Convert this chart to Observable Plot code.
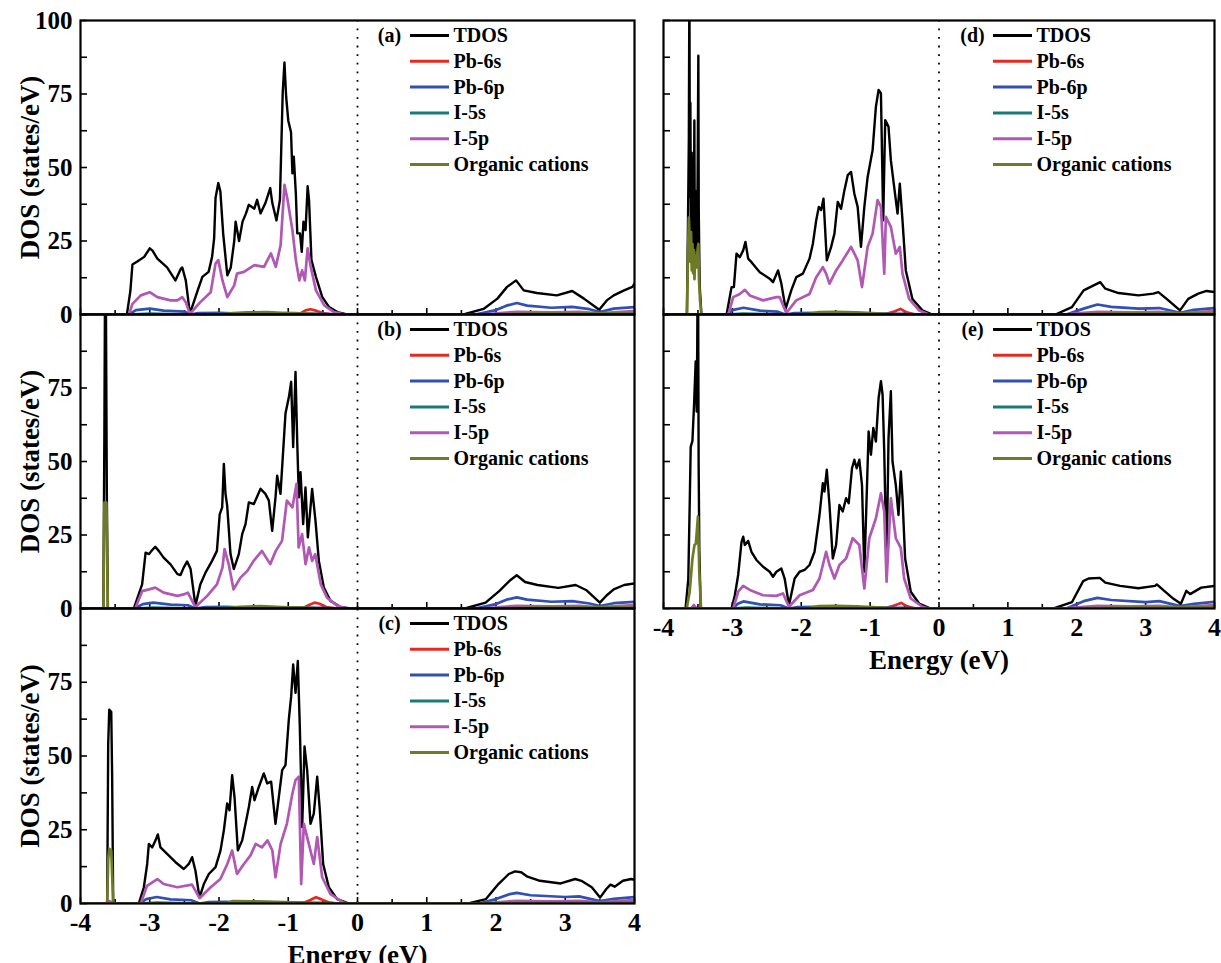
<!DOCTYPE html>
<html><head><meta charset="utf-8">
<script src="https://cdn.jsdelivr.net/npm/d3@7"></script>
<script src="https://cdn.jsdelivr.net/npm/@observablehq/plot@0.6"></script>
<style>
body{margin:0;background:#fff;}
#wrap{position:relative;width:1221px;height:963px;overflow:hidden;background:#fff;}
#wrap svg{position:absolute;left:0;top:0;}
</style></head><body><div id="wrap"></div>
<script>
// ---------- labels ----------
const SERIES = ["TDOS","Pb-6s","Pb-6p","I-5s","I-5p","Organic cations"];
const COLORS = ["#000000","#e8281e","#3050b4","#1a7a78","#b058b4","#6f7a26"];
const PANEL_LABELS = ["(a)","(b)","(c)","(d)","(e)"];
const E_TICKS = [-4,-3,-2,-1,0,1,2,3,4];
const DOS_TICKS = [0,25,50,75,100];

// ---------- panel (a) ----------
const a_tdos = [[-4,0],[-3.33,0],[-3.28,8],[-3.25,17],[-3.18,18],[-3.08,19.6],[-3.0,22.5],[-2.96,21.7],[-2.89,19],[-2.75,16],[-2.63,11.6],[-2.55,15.6],[-2.53,16],[-2.48,11.6],[-2.42,0.3],[-2.31,8],[-2.24,12.8],[-2.15,14.5],[-2.10,19.6],[-2.07,26],[-2.05,39.6],[-2.01,44.7],[-1.98,41.8],[-1.94,27.6],[-1.88,13.3],[-1.83,16],[-1.78,25],[-1.76,31.6],[-1.71,25],[-1.66,31.6],[-1.61,34.4],[-1.57,37.3],[-1.49,36],[-1.45,39],[-1.40,34.4],[-1.33,37.9],[-1.26,43],[-1.23,37.9],[-1.17,32],[-1.12,39],[-1.08,75.5],[-1.055,85.7],[-1.03,74],[-1.0,66],[-0.96,62],[-0.94,48],[-0.92,53.7],[-0.89,41],[-0.87,27.6],[-0.83,27.6],[-0.805,21.3],[-0.78,31.6],[-0.75,28.7],[-0.72,43.6],[-0.70,39],[-0.665,18.5],[-0.60,12.8],[-0.51,6],[-0.41,2.5],[-0.29,0.8],[-0.15,0],[1.53,0],[1.82,1.9],[2.02,5.4],[2.16,9.4],[2.26,11.1],[2.29,11.6],[2.40,8.2],[2.59,7.3],[2.88,6.5],[3.10,8],[3.27,5.4],[3.49,1.6],[3.6,4.8],[3.7,6.5],[3.85,8.2],[3.97,9.4],[4,10.5]];
const a_pb6s = [[-4,0],[-0.85,0],[-0.75,1.4],[-0.68,1.8],[-0.6,1.3],[-0.5,0.5],[-0.35,0],[1.9,0],[2.4,0.4],[3.2,0.3],[4,0.5]];
const a_pb6p = [[-4,0],[-3.30,0],[-3.2,1.5],[-3.0,2.0],[-2.8,1.3],[-2.5,1.0],[-2.42,0],[-2.3,0.5],[-2.0,0.6],[-1.7,0.3],[-1.0,0.3],[-0.5,0.2],[-0.2,0],[1.7,0],[2.0,1.5],[2.15,3.0],[2.3,3.9],[2.45,3.0],[2.8,2.3],[3.1,2.6],[3.35,1.8],[3.5,0.8],[3.7,2.0],[4,2.5]];
const a_i5s = [[-4,0],[-3.3,0],[-3.0,0.3],[-2.42,0],[-1.8,0.3],[-1.5,0.5],[-1.2,0.4],[-0.9,0.2],[-0.5,0],[4,0]];
const a_i5p = [[-4,0],[-3.30,0],[-3.25,3.6],[-3.13,6.5],[-3.0,7.6],[-2.89,5.9],[-2.70,4.8],[-2.60,4.8],[-2.53,5.9],[-2.48,4.2],[-2.42,0.2],[-2.27,4.2],[-2.12,7.6],[-2.05,17.3],[-2.01,18.5],[-1.95,11.6],[-1.88,5.9],[-1.78,9.9],[-1.74,13.9],[-1.64,14.5],[-1.49,16.8],[-1.35,16.2],[-1.25,20.8],[-1.18,16.2],[-1.11,23.6],[-1.055,44.1],[-1.01,39],[-0.94,28.7],[-0.89,18.5],[-0.84,11.6],[-0.80,15],[-0.76,11.6],[-0.72,22.5],[-0.675,16.2],[-0.60,8.2],[-0.48,3.1],[-0.34,0.8],[-0.19,0],[1.8,0],[2.1,0.6],[2.3,0.9],[2.8,0.7],[3.2,0.9],[3.5,0.4],[3.8,0.9],[4,1.2]];
const a_org = [[-4,0],[-1.95,0],[-1.8,0.5],[-1.6,0.7],[-1.3,0.8],[-1.1,0.6],[-0.9,0.5],[-0.6,0.1],[-0.4,0],[1.8,0],[2.5,0.3],[4,0.4]];

// ---------- panel (b) ----------
const b_tdos = [[-4,0],[-3.67,0],[-3.655,60],[-3.645,115],[-3.635,115],[-3.62,40],[-3.605,0],[-3.23,0],[-3.16,4.8],[-3.11,8.2],[-3.06,19],[-3.01,18.5],[-2.975,19.6],[-2.92,21],[-2.87,19.6],[-2.80,17.3],[-2.70,15],[-2.60,11.7],[-2.556,11.4],[-2.51,13.9],[-2.46,16],[-2.41,13.4],[-2.34,0.9],[-2.27,8.2],[-2.195,12.2],[-2.10,16.2],[-2.03,19.6],[-1.99,32],[-1.954,34.4],[-1.93,49.2],[-1.906,39],[-1.882,35],[-1.834,18.5],[-1.786,13.4],[-1.714,18.5],[-1.665,25.3],[-1.617,28.7],[-1.569,36.1],[-1.497,35.5],[-1.40,40.7],[-1.33,39],[-1.28,36.7],[-1.232,26.4],[-1.184,37.8],[-1.16,45.2],[-1.112,39],[-1.04,66.3],[-0.99,72],[-0.958,77.1],[-0.929,54.9],[-0.895,80.5],[-0.871,57.2],[-0.847,37.8],[-0.823,46.4],[-0.785,28.7],[-0.751,41.2],[-0.717,24.2],[-0.655,40.7],[-0.607,29.9],[-0.558,16.2],[-0.486,7.1],[-0.39,2.6],[-0.246,0.5],[-0.1,0],[1.55,0],[1.85,2],[2.05,6],[2.2,9.5],[2.3,11.3],[2.42,9],[2.6,8],[2.9,7],[3.15,8],[3.3,6.3],[3.5,2],[3.6,4.5],[3.7,6.5],[3.85,8],[4,8.5]];
const b_pb6s = [[-4,0],[-0.8,0],[-0.7,1.2],[-0.62,2.0],[-0.55,1.6],[-0.45,0.5],[-0.3,0],[1.9,0],[2.4,0.4],[3.2,0.3],[4,0.5]];
const b_pb6p = [[-4,0],[-3.22,0],[-3.1,1.5],[-2.95,2.0],[-2.7,1.3],[-2.45,1.1],[-2.34,0],[-2.2,0.5],[-1.9,0.6],[-1.6,0.3],[-1.0,0.3],[-0.5,0.2],[-0.2,0],[1.7,0],[2.0,1.5],[2.15,3.0],[2.3,3.8],[2.45,3.0],[2.8,2.3],[3.1,2.5],[3.35,1.7],[3.5,0.8],[3.7,1.8],[4,2.3]];
const b_i5s = [[-4,0],[-3.2,0],[-2.95,0.3],[-2.34,0],[-1.8,0.3],[-1.5,0.5],[-1.2,0.4],[-0.9,0.2],[-0.5,0],[4,0]];
const b_i5p = [[-4,0],[-3.21,0],[-3.11,5.9],[-3.01,6.5],[-2.92,7.1],[-2.80,5.4],[-2.60,4.3],[-2.51,4.8],[-2.45,5.4],[-2.34,0.5],[-2.17,4.3],[-2.03,8.2],[-1.95,13.9],[-1.92,20.2],[-1.86,15.1],[-1.79,6.5],[-1.69,10.5],[-1.59,12.8],[-1.50,16.2],[-1.38,19.6],[-1.26,15.1],[-1.18,19.6],[-1.09,23],[-1.02,36.7],[-0.94,34.4],[-0.88,42.4],[-0.85,20.8],[-0.80,25.3],[-0.75,15.1],[-0.70,20.8],[-0.655,16.2],[-0.61,18.5],[-0.53,8.2],[-0.44,3.7],[-0.29,0.9],[-0.15,0],[1.8,0],[2.1,0.6],[2.3,0.9],[2.8,0.7],[3.2,0.9],[3.5,0.4],[3.8,0.9],[4,1.2]];
const b_org = [[-4,0],[-3.67,0],[-3.655,36],[-3.625,36],[-3.605,0],[-1.9,0],[-1.7,0.6],[-1.4,0.8],[-1.1,0.5],[-0.8,0.3],[-0.5,0],[1.8,0],[2.5,0.3],[4,0.4]];

// ---------- panel (c) ----------
const c_tdos = [[-4,0],[-3.615,0],[-3.60,54],[-3.585,65.7],[-3.556,65],[-3.543,43],[-3.528,0],[-3.158,0],[-3.085,5.5],[-3.037,13.4],[-3.013,20.2],[-2.965,19],[-2.917,21.4],[-2.883,23.4],[-2.845,19],[-2.749,16.8],[-2.628,14],[-2.508,11.7],[-2.436,13.4],[-2.388,15.7],[-2.34,11.1],[-2.282,2],[-2.219,6.6],[-2.147,10],[-2.05,12.3],[-1.978,18],[-1.93,24.8],[-1.882,33.9],[-1.848,31.6],[-1.81,43.5],[-1.776,36.1],[-1.728,18],[-1.665,21.4],[-1.617,27],[-1.569,32.7],[-1.521,39.5],[-1.487,35],[-1.425,39.5],[-1.353,44.1],[-1.304,40.7],[-1.247,41.3],[-1.184,27],[-1.136,36.1],[-1.088,45.2],[-1.04,46.9],[-0.992,62.3],[-0.958,70.2],[-0.929,81],[-0.895,71.4],[-0.862,82.2],[-0.833,60],[-0.799,25.9],[-0.765,53.2],[-0.727,45.2],[-0.679,27],[-0.631,30.5],[-0.582,43],[-0.544,31.6],[-0.496,13.4],[-0.414,5.5],[-0.294,1.5],[-0.15,0.2],[-0.05,0],[1.6,0],[1.855,1.5],[2.035,6.6],[2.185,10],[2.275,10.9],[2.364,10.6],[2.455,9.1],[2.634,7.7],[2.934,6.8],[3.144,8.3],[3.233,7.7],[3.383,5.5],[3.503,2],[3.593,4.9],[3.653,6.4],[3.713,5.7],[3.833,7.7],[3.953,8.3],[4,8]];
const c_pb6s = [[-4,0],[-0.8,0],[-0.68,1.2],[-0.6,2.1],[-0.52,1.4],[-0.42,0.4],[-0.3,0],[1.9,0],[2.4,0.4],[3.2,0.3],[4,0.5]];
const c_pb6p = [[-4,0],[-3.15,0],[-3.05,1.5],[-2.9,2.2],[-2.7,1.4],[-2.4,1.1],[-2.28,0],[-2.15,0.5],[-1.9,0.6],[-1.6,0.3],[-1.0,0.3],[-0.5,0.2],[-0.2,0],[1.75,0],[2.0,1.5],[2.2,3.2],[2.3,3.6],[2.5,2.8],[3.0,2.2],[3.2,2.4],[3.5,0.8],[3.7,1.6],[4,2.2]];
const c_i5s = [[-4,0],[-3.15,0],[-2.9,0.3],[-2.28,0],[-1.7,0.3],[-1.45,0.6],[-1.2,0.4],[-0.9,0.2],[-0.5,0],[4,0]];
const c_i5p = [[-4,0],[-3.615,0],[-3.59,0.8],[-3.55,0.5],[-3.528,0],[-3.13,0],[-3.04,6],[-2.89,8.3],[-2.80,6.6],[-2.60,5.5],[-2.39,6.4],[-2.28,1.8],[-2.12,5.5],[-1.98,8.3],[-1.88,13.4],[-1.81,18],[-1.74,10],[-1.64,13.4],[-1.545,16.3],[-1.47,20.2],[-1.38,19],[-1.30,21.4],[-1.23,18],[-1.184,8.9],[-1.11,20.2],[-1.02,27],[-0.94,37.3],[-0.895,41.8],[-0.847,43],[-0.813,6.6],[-0.775,27],[-0.703,20.2],[-0.631,13.4],[-0.582,22.5],[-0.51,8.9],[-0.39,3.2],[-0.2,0.3],[-0.1,0],[1.8,0],[2.1,0.6],[2.3,0.9],[2.8,0.7],[3.2,0.9],[3.5,0.4],[3.8,0.9],[4,1.2]];
const c_org = [[-4,0],[-3.615,0],[-3.60,15],[-3.585,18.5],[-3.556,18],[-3.54,8],[-3.528,0],[-1.9,0],[-1.8,0.8],[-1.5,0.7],[-1.2,0.6],[-0.9,0.4],[-0.6,0],[1.8,0],[2.5,0.3],[4,0.4]];

// ---------- panel (d) ----------
const d_tdos = [[-4,0],[-3.66,0],[-3.645,30],[-3.632,60],[-3.624,115],[-3.617,40],[-3.61,72],[-3.60,25],[-3.59,55],[-3.58,20],[-3.57,48],[-3.56,22],[-3.552,66],[-3.545,22],[-3.535,42],[-3.52,18],[-3.505,45],[-3.494,88],[-3.488,35],[-3.475,10],[-3.45,0],[-3.084,0],[-3.012,9.3],[-2.978,9.3],[-2.94,20.7],[-2.892,19.5],[-2.843,21.8],[-2.81,24.7],[-2.771,19],[-2.723,17.8],[-2.602,14.4],[-2.458,12.2],[-2.41,11],[-2.337,15],[-2.289,10.5],[-2.227,1.9],[-2.145,8.2],[-2.072,12.7],[-1.976,13.9],[-1.88,19],[-1.831,24.1],[-1.783,32],[-1.745,36.6],[-1.711,35.5],[-1.677,39.4],[-1.629,18.4],[-1.566,23],[-1.518,27.5],[-1.47,38.3],[-1.422,36],[-1.373,42.3],[-1.325,47.4],[-1.277,48.5],[-1.229,41.1],[-1.181,36.6],[-1.133,23],[-1.084,36.6],[-1.036,46.8],[-0.964,55.9],[-0.916,70.7],[-0.877,76.4],[-0.843,75.2],[-0.81,32],[-0.781,66.1],[-0.733,63.9],[-0.699,52.5],[-0.651,43.4],[-0.602,34.3],[-0.569,44.5],[-0.53,32],[-0.482,15],[-0.386,5.3],[-0.241,1.4],[-0.096,0],[1.69,0],[1.93,2.5],[2.1,8.2],[2.246,9.9],[2.342,11],[2.414,8.8],[2.607,7.3],[2.896,6.5],[3.113,7.1],[3.185,7.6],[3.305,5.3],[3.499,1.4],[3.619,5.3],[3.667,5.9],[3.764,7.1],[3.884,8],[4,7.6]];
const d_pb6s = [[-4,0],[-0.8,0],[-0.65,1.0],[-0.56,1.9],[-0.48,0.8],[-0.35,0],[1.9,0],[2.4,0.4],[3.2,0.3],[4,0.5]];
const d_pb6p = [[-4,0],[-3.08,0],[-3.0,1.5],[-2.84,2.3],[-2.6,1.3],[-2.35,1.0],[-2.23,0],[-2.1,0.5],[-1.8,0.6],[-1.5,0.3],[-1.0,0.3],[-0.5,0.2],[-0.2,0],[1.85,0],[2.1,2],[2.3,3.4],[2.5,2.6],[2.9,2],[3.2,2.2],[3.5,0.6],[3.7,1.6],[4,2.2]];
const d_i5s = [[-4,0],[-3.08,0],[-2.85,0.3],[-2.23,0],[-1.7,0.3],[-1.5,0.7],[-1.3,0.6],[-1.1,0.4],[-0.8,0.1],[-0.5,0],[4,0]];
const d_i5p = [[-4,0],[-3.06,0],[-2.988,5.9],[-2.892,7],[-2.819,8.4],[-2.747,6.5],[-2.554,4.8],[-2.361,5.9],[-2.313,5.9],[-2.217,0.5],[-2.072,4.8],[-1.88,7],[-1.783,12.7],[-1.687,16.1],[-1.639,13.9],[-1.59,10.5],[-1.494,15],[-1.398,18.4],[-1.277,23],[-1.181,18.4],[-1.118,9.3],[-1.036,23],[-0.964,27.5],[-0.892,38.9],[-0.843,36.6],[-0.795,13.9],[-0.771,33.2],[-0.699,29.8],[-0.627,20.7],[-0.569,23],[-0.53,13.9],[-0.434,5.3],[-0.289,1.4],[-0.145,0],[1.8,0],[2.1,0.6],[2.3,0.9],[2.8,0.7],[3.2,0.9],[3.5,0.4],[3.8,0.9],[4,1.2]];
const d_org = [[-4,0],[-3.66,0],[-3.645,20],[-3.632,33],[-3.62,25],[-3.61,18],[-3.60,28],[-3.59,15],[-3.58,24],[-3.57,14],[-3.56,22],[-3.55,12],[-3.54,20],[-3.52,16],[-3.505,22],[-3.494,24],[-3.485,12],[-3.47,5],[-3.45,0],[-1.9,0],[-1.75,0.8],[-1.5,0.9],[-1.2,0.7],[-0.9,0.4],[-0.6,0],[1.8,0],[2.5,0.3],[4,0.4]];

// ---------- panel (e) ----------
const e_tdos = [[-4,0],[-3.68,0],[-3.64,10],[-3.62,35],[-3.605,55],[-3.58,57],[-3.557,69],[-3.533,84],[-3.518,67],[-3.51,90],[-3.504,115],[-3.498,115],[-3.49,50],[-3.48,20],[-3.46,0],[-3.012,0],[-2.964,4.5],[-2.916,11.4],[-2.867,22.7],[-2.843,24.4],[-2.819,21.6],[-2.771,23],[-2.723,19.3],[-2.651,16.5],[-2.554,14.2],[-2.458,12.5],[-2.41,10.8],[-2.361,12.5],[-2.289,13.6],[-2.241,10.2],[-2.178,1.1],[-2.096,10.2],[-2.024,12.5],[-1.952,13.1],[-1.88,14.8],[-1.807,19.3],[-1.735,31.8],[-1.687,42.6],[-1.663,39.8],[-1.629,47.2],[-1.59,35.2],[-1.542,17],[-1.494,21.6],[-1.446,35.2],[-1.398,33],[-1.349,37.5],[-1.311,35.8],[-1.263,47.7],[-1.229,50.6],[-1.195,47.7],[-1.157,50.6],[-1.118,42],[-1.084,12.5],[-1.051,37.5],[-1.022,60.2],[-0.988,52.3],[-0.954,61.4],[-0.916,56.8],[-0.877,71.6],[-0.843,77.3],[-0.819,72.7],[-0.795,53.4],[-0.761,13.6],[-0.733,58],[-0.699,73.9],[-0.675,50],[-0.627,42],[-0.588,31.8],[-0.554,46.6],[-0.53,37.5],[-0.492,17],[-0.41,5.7],[-0.289,1.7],[-0.145,0.2],[-0.048,0],[1.664,0],[1.932,2.2],[2.093,9.3],[2.173,10.2],[2.334,10.4],[2.415,8.8],[2.629,7.7],[2.896,6.9],[3.137,7.7],[3.163,8.2],[3.27,6],[3.405,3.3],[3.512,1.6],[3.591,6],[3.646,4.9],[3.807,7.1],[4,7.7]];
const e_pb6s = [[-4,0],[-0.8,0],[-0.65,1.0],[-0.55,1.9],[-0.47,0.8],[-0.35,0],[1.9,0],[2.4,0.4],[3.2,0.3],[4,0.5]];
const e_pb6p = [[-4,0],[-3.0,0],[-2.92,1.6],[-2.84,2.4],[-2.6,1.4],[-2.3,1.1],[-2.18,0],[-2.05,0.5],[-1.8,0.6],[-1.5,0.3],[-1.0,0.3],[-0.5,0.2],[-0.2,0],[1.85,0],[2.1,2.5],[2.3,3.6],[2.5,2.9],[3.0,2.2],[3.2,2.5],[3.5,0.8],[3.7,1.6],[4,2.3]];
const e_i5s = [[-4,0],[-3.0,0],[-2.8,0.3],[-2.18,0],[-1.7,0.3],[-1.5,0.7],[-1.3,0.6],[-1.1,0.4],[-0.8,0.1],[-0.5,0],[4,0]];
const e_i5p = [[-4,0],[-3.6,0],[-3.56,1.2],[-3.52,0],[-2.988,0],[-2.916,5.7],[-2.843,7.7],[-2.747,6.3],[-2.554,4.5],[-2.361,4.3],[-2.265,5.1],[-2.178,0.6],[-2.024,4.5],[-1.831,6.3],[-1.735,10.2],[-1.639,19.3],[-1.59,14.8],[-1.518,10.2],[-1.446,14.8],[-1.349,17],[-1.253,23.9],[-1.157,21.6],[-1.084,6.8],[-1.012,23.9],[-0.916,30.7],[-0.843,39.2],[-0.795,33],[-0.761,9.1],[-0.699,37.5],[-0.627,23.9],[-0.554,20.5],[-0.506,10.2],[-0.41,3.4],[-0.241,0.6],[-0.145,0],[1.8,0],[2.1,0.6],[2.3,0.9],[2.8,0.7],[3.2,0.9],[3.5,0.4],[3.8,0.9],[4,1.2]];
const e_org = [[-4,0],[-3.663,0],[-3.62,5.7],[-3.58,17],[-3.55,21.6],[-3.53,22],[-3.50,31.3],[-3.48,12.5],[-3.455,0],[-1.9,0],[-1.75,0.8],[-1.5,0.9],[-1.2,0.7],[-0.9,0.4],[-0.6,0],[1.8,0],[2.5,0.3],[4,0.4]];

// ---------- drawing ----------
const FONT = "'Liberation Serif','Times New Roman',serif";
const W_TOTAL = 1221, H_TOTAL = 963;

const panels = [
  {label: PANEL_LABELS[0], series: [a_tdos,a_pb6s,a_pb6p,a_i5s,a_i5p,a_org], x0:80,  x1:634,  y0:20,  y1:314, yLabels:true, top:true,  xLabels:false},
  {label: PANEL_LABELS[1], series: [b_tdos,b_pb6s,b_pb6p,b_i5s,b_i5p,b_org], x0:80,  x1:634,  y0:314, y1:608, yLabels:true, top:false, xLabels:false},
  {label: PANEL_LABELS[2], series: [c_tdos,c_pb6s,c_pb6p,c_i5s,c_i5p,c_org], x0:80,  x1:634,  y0:608, y1:903, yLabels:true, top:false, xLabels:true},
  {label: PANEL_LABELS[3], series: [d_tdos,d_pb6s,d_pb6p,d_i5s,d_i5p,d_org], x0:663, x1:1214, y0:20,  y1:314, yLabels:false, top:false, xLabels:false},
  {label: PANEL_LABELS[4], series: [e_tdos,e_pb6s,e_pb6p,e_i5s,e_i5p,e_org], x0:663, x1:1214, y0:314, y1:608, yLabels:false, top:false, xLabels:true}
];

const wrap = document.getElementById("wrap");

for (const p of panels) {
  const W = p.x1 - p.x0, H = p.y1 - p.y0;
  const ePx = 8 / W, dPx = 100 / H;
  const marks = [];
  // inward ticks
  marks.push(Plot.ruleY(d3.range(0, 100.01, 12.5), {x1: -4, x2: -4 + 7 * ePx, stroke: "black", strokeWidth: 1.6}));
  marks.push(Plot.ruleX(d3.range(-4, 4.01, 0.5), {y1: 0, y2: d => (Number.isInteger(d) ? 6 : 4) * dPx, stroke: "black", strokeWidth: 1.6}));
  // Fermi level
  marks.push(Plot.ruleX([0], {y1: 0, y2: 100, stroke: "black", strokeWidth: 1.8, strokeDasharray: "1.8,6.8"}));
  // curves
  p.series.forEach((arr, i) => {
    marks.push(Plot.line(arr, {x: d => d[0], y: d => d[1], stroke: COLORS[i], strokeWidth: i === 0 ? 2.4 : 2.7, clip: true, strokeLinejoin: "round"}));
  });
  // legend
  SERIES.forEach((name, i) => {
    const yv = 100 - (15 + i * 25.8) * dPx;
    marks.push(Plot.ruleY([yv], {x1: -4 + 330 * ePx, x2: -4 + 369 * ePx, stroke: COLORS[i], strokeWidth: 3}));
    marks.push(Plot.text([name], {x: -4 + 373 * ePx, y: yv, text: d => d, textAnchor: "start", fontSize: 20, fontWeight: "bold", fill: "black"}));
  });
  marks.push(Plot.text([p.label], {x: -4 + 309 * ePx, y: 100 - 15 * dPx, text: d => d, fontSize: 20, fontWeight: "bold", fill: "black"}));
  // axes
  if (p.yLabels) {
    marks.push(Plot.axisY(p.top ? DOS_TICKS : DOS_TICKS.slice(0, 4), {tickSize: 0, tickPadding: 8, fontSize: 25, fontWeight: "bold", label: null, tickFormat: d => String(d)}));
    marks.push(Plot.text(["DOS (states/eV)"], {frameAnchor: "left", dx: -50, rotate: -90, textAnchor: "middle", lineAnchor: "middle", text: d => d, fontSize: 27, fontWeight: "bold", fill: "black"}));
  }
  if (p.xLabels) {
    marks.push(Plot.axisX(E_TICKS, {tickSize: 0, tickPadding: 9, fontSize: 26, fontWeight: "bold", label: null, tickFormat: d => String(d)}));
    marks.push(Plot.text(["Energy (eV)"], {frameAnchor: "bottom", dy: 52, lineAnchor: "middle", text: d => d, fontSize: 27, fontWeight: "bold", fill: "black"}));
  }
  marks.push(Plot.frame({stroke: "black", strokeWidth: 2.2}));

  const opts = {
    width: W_TOTAL, height: H_TOTAL,
    marginLeft: p.x0, marginRight: W_TOTAL - p.x1,
    marginTop: p.y0, marginBottom: H_TOTAL - p.y1,
    x: {domain: [-4, 4]},
    y: {domain: [0, 100]},
    style: {background: "transparent", overflow: "visible", fontFamily: FONT, color: "black"},
    marks
  };
  if (!p.xLabels) opts.x.axis = null;
  if (!p.yLabels) opts.y.axis = null;
  const svg = Plot.plot(opts);
  wrap.appendChild(svg);
}
</script>
</body></html>
